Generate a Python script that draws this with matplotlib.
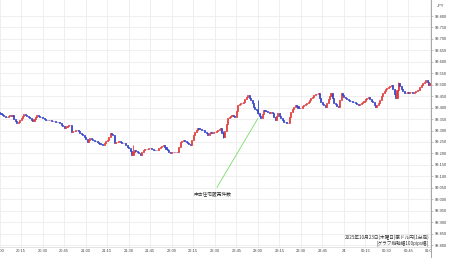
import matplotlib
matplotlib.use("Agg")
import matplotlib.pyplot as plt
import matplotlib.transforms as mtransforms

# ---- data: AUD/JPY 1-minute closes, 20:00 -> 01:00 (minute index from 20:00)
closes = [
    99.376, 99.372, 99.368, 99.365, 99.361, 99.359, 99.362, 99.366, 99.364, 99.368,
    99.352, 99.340, 99.333, 99.339, 99.346, 99.355, 99.363, 99.372, 99.368, 99.362,
    99.358, 99.355, 99.347, 99.341, 99.352, 99.361, 99.368, 99.364, 99.360, 99.357,
    99.355, 99.350, 99.348, 99.346, 99.344, 99.347, 99.343, 99.341, 99.342, 99.338,
    99.336, 99.335, 99.333, 99.326, 99.318, 99.311, 99.316, 99.320, 99.322, 99.324,
    99.293, 99.298, 99.300, 99.304, 99.302, 99.296, 99.290, 99.286, 99.280, 99.272,
    99.262, 99.250, 99.258, 99.267, 99.262, 99.258, 99.255, 99.252, 99.250, 99.246,
    99.242, 99.240, 99.237, 99.245, 99.252, 99.258, 99.272, 99.289, 99.284, 99.280,
    99.245, 99.248, 99.250, 99.252, 99.250, 99.247, 99.244, 99.245, 99.238, 99.230,
    99.224, 99.210, 99.193, 99.205, 99.214, 99.210, 99.206, 99.200, 99.193, 99.205,
    99.215, 99.218, 99.221, 99.219, 99.222, 99.224, 99.220, 99.217, 99.215, 99.213,
    99.215, 99.222, 99.230, 99.234, 99.237, 99.228, 99.220, 99.215, 99.208, 99.202,
    99.205, 99.208, 99.204, 99.207, 99.206, 99.228, 99.250, 99.255, 99.258, 99.252,
    99.248, 99.245, 99.241, 99.237, 99.258, 99.280, 99.292, 99.303, 99.311, 99.308,
    99.305, 99.303, 99.302, 99.295, 99.288, 99.280, 99.287, 99.293, 99.290, 99.292,
    99.293, 99.298, 99.303, 99.308, 99.311, 99.290, 99.272, 99.300, 99.330, 99.355,
    99.360, 99.364, 99.368, 99.362, 99.359, 99.385, 99.411, 99.415, 99.420, 99.418,
    99.424, 99.436, 99.447, 99.455, 99.444, 99.433, 99.418, 99.403, 99.395, 99.388,
    99.376, 99.365, 99.355, 99.372, 99.390, 99.386, 99.383, 99.381, 99.378, 99.380,
    99.376, 99.360, 99.346, 99.362, 99.376, 99.365, 99.355, 99.345, 99.337, 99.335,
    99.334, 99.333, 99.357, 99.381, 99.392, 99.402, 99.411, 99.405, 99.400, 99.397,
    99.398, 99.405, 99.411, 99.416, 99.420, 99.424, 99.432, 99.440, 99.448, 99.455,
    99.458, 99.461, 99.464, 99.444, 99.424, 99.416, 99.410, 99.403, 99.420, 99.438,
    99.452, 99.464, 99.442, 99.420, 99.414, 99.408, 99.403, 99.433, 99.464, 99.455,
    99.448, 99.442, 99.437, 99.433, 99.430, 99.428, 99.426, 99.424, 99.420, 99.415,
    99.411, 99.416, 99.420, 99.424, 99.430, 99.436, 99.441, 99.446, 99.438, 99.430,
    99.424, 99.412, 99.403, 99.411, 99.420, 99.435, 99.450, 99.464, 99.472, 99.480,
    99.486, 99.490, 99.494, 99.499, 99.480, 99.461, 99.442, 99.475, 99.507, 99.495,
    99.483, 99.472, 99.464, 99.462, 99.466, 99.464, 99.466, 99.468, 99.465, 99.468,
    99.472, 99.475, 99.477, 99.488, 99.499, 99.506, 99.513, 99.520, 99.510, 99.499,
    99.507,
]
first_open = 99.380

# notable wicks (minute index, high, low)
wick_idx = [93, 156, 180, 278]
wick_hi = [99.237, 99.300, 99.433, 99.512]
wick_lo = [99.200, 99.268, 99.372, 99.470]

xtick_minutes = list(range(0, 301, 15))
xtick_labels = ["20:00", "20:15", "20:30", "20:45", "21:00", "21:15", "21:30",
                "21:45", "22:00", "22:15", "22:30", "22:45", "23:00", "23:15",
                "23:30", "23:45", "24", "00:15", "00:30", "00:45", "01:00"]
ytick_values = [98.80 + 0.05 * i for i in range(21)]

event_minute = 180
event_price = 99.352
event_label = "中古住宅販売件数"
title_line1 = "2025年10月23日(木曜日)豪ドル円(1分足)"
title_line2 = "[グラフ縦軸幅100pips幅]"

# ---- drawing
W, H = 450, 258
fig = plt.figure(figsize=(W / 100, H / 100), dpi=100)
ax = fig.add_axes([0, 0, 431 / W, 1])

ymin_p = 98.80 - 13 / 229
ymax_p = 99.80 + 16 / 229
ax.set_ylim(ymin_p, ymax_p)
ax.set_xlim(0.3, 300.7)

def px_to_price(py):
    return 99.80 - (py - 16) / 229

up_c, dn_c = "#e23b3b", "#3240c8"
opens = [first_open] + closes[:-1]
xs = list(range(len(closes)))
colors = [up_c if c >= o else dn_c for o, c in zip(opens, closes)]
bottoms = [min(o, c) for o, c in zip(opens, closes)]
heights = [abs(c - o) for o, c in zip(opens, closes)]

# wicks
for i, hi, lo in zip(wick_idx, wick_hi, wick_lo):
    ax.vlines(i, lo, hi, color=colors[i], lw=0.6, zorder=3)
# bodies
ax.bar(xs, heights, bottom=bottoms, width=0.75, color=colors,
       edgecolor=colors, linewidth=0.55, zorder=4)

# grid
ax.set_yticks(ytick_values)
ax.grid(axis="y", color="#ededed", lw=0.6, zorder=0)
for m in xtick_minutes:
    ax.axvline(m, ymin=11 / H, ymax=1, color="#ededed", lw=0.6, zorder=0)
ax.axhline(px_to_price(247), color="#d8d8d8", lw=0.5, zorder=1)

tick_font = "Liberation Sans"
ax.set_xticks([])
ax.yaxis.tick_right()
ax.set_yticklabels([f"{v:.3f}" for v in ytick_values], family=tick_font)
ax.tick_params(axis="y", labelsize=2.9, labelcolor="#444444", length=1.2,
               width=0.4, color="#999999", pad=1.6)
for s in ["top", "left", "bottom"]:
    ax.spines[s].set_visible(False)
ax.spines["right"].set_color("#999999")
ax.spines["right"].set_linewidth(0.6)

trans = mtransforms.blended_transform_factory(ax.transData, ax.transAxes)
for m, lbl in zip(xtick_minutes, xtick_labels):
    ax.text(m, 1 - 251 / H, lbl, transform=trans, ha="center", va="center",
            fontsize=2.9, family=tick_font, color="#444444", clip_on=True)

fig.text(437 / W, 1 - 6 / H, "JPY", fontsize=2.9, family=tick_font,
         color="#444444", va="center")

jp = ["Noto Sans CJK JP", "DejaVu Sans"]
ax.annotate(event_label, xy=(event_minute, event_price),
            xytext=(148.5, px_to_price(194)), ha="center", va="center",
            fontsize=3.4, family=jp, color="#333333",
            arrowprops=dict(arrowstyle="-", color="#77dd66", lw=0.6,
                            shrinkA=1, shrinkB=0, relpos=(0.55, 1.0)),
            zorder=5)

fig.text(429 / W, 1 - 237 / H, title_line1, ha="right", va="center",
         fontsize=3.3, family=jp, color="#333333")
fig.text(429 / W, 1 - 243 / H, title_line2, ha="right", va="center",
         fontsize=3.3, family=jp, color="#333333")

fig.savefig("out.png", dpi=100)
